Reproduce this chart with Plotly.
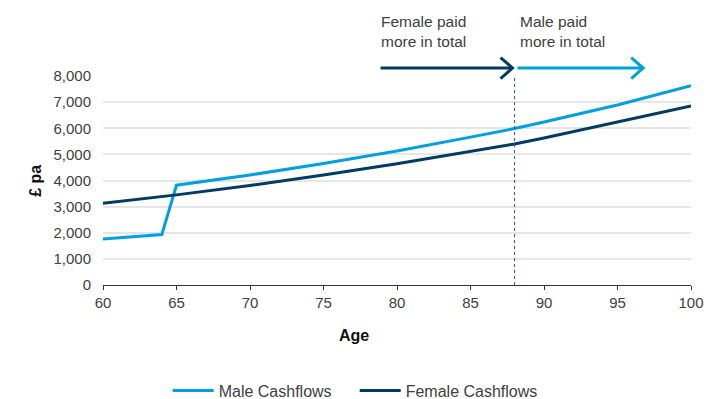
import plotly.graph_objects as go

# Data
male_age = [60, 64, 65, 70, 75, 80, 85, 88, 90, 95, 100]
male_cash = [1760, 1930, 3820, 4210, 4650, 5130, 5660, 5990, 6240, 6890, 7630]
female_age = [60, 65, 70, 75, 80, 85, 88, 90, 95, 100]
female_cash = [3130, 3450, 3810, 4210, 4640, 5100, 5400, 5630, 6230, 6850]

x_ticks = [60, 65, 70, 75, 80, 85, 90, 95, 100]
y_ticks = [0, 1000, 2000, 3000, 4000, 5000, 6000, 7000, 8000]
crossover_age = 88

MALE = "#00a0df"
FEMALE = "#003b64"
TXT = "#404040"
FONT = "Liberation Sans, Arial, sans-serif"

fig = go.Figure()
fig.add_trace(go.Scatter(x=male_age, y=male_cash, mode="lines", name="Male Cashflows",
                         line=dict(color=MALE, width=3)))
fig.add_trace(go.Scatter(x=female_age, y=female_cash, mode="lines", name="Female Cashflows",
                         line=dict(color=FEMALE, width=3)))

# dotted crossover line
fig.add_shape(type="line", xref="x", yref="paper", x0=crossover_age, x1=crossover_age,
              y0=0, y1=1, line=dict(color="#3d5166", width=1, dash="dot"), layer="above")

arrow_y = 1.038
arrows = [(78.88, 87.86, FEMALE), (88.2, 96.75, MALE)]
for x0, x1, col in arrows:
    fig.add_shape(type="line", xref="x", yref="paper", x0=x0, x1=x1 - 0.05, y0=arrow_y, y1=arrow_y,
                  line=dict(color=col, width=3))
    fig.add_shape(type="path", xref="x", yref="paper", xsizemode="pixel", ysizemode="pixel",
                  xanchor=x1, yanchor=arrow_y,
                  path="M -12,10.5 L 0,0 L -12,-10.5",
                  line=dict(color=col, width=3))

fig.add_annotation(x=78.8, y=1.31, xref="x", yref="paper", xanchor="left", yanchor="top",
                   text="Female paid<br>more in total", showarrow=False, align="left",
                   font=dict(family=FONT, size=15.5, color=TXT))
fig.add_annotation(x=88.2, y=1.31, xref="x", yref="paper", xanchor="left", yanchor="top",
                   text="Male paid<br>more in total", showarrow=False, align="left",
                   font=dict(family=FONT, size=15.5, color=TXT))

# axis titles
fig.add_annotation(x=0.4266, y=-0.293, xref="paper", yref="paper", text="<b>Age</b>",
                   showarrow=False, font=dict(family=FONT, size=16, color="#111111"))
fig.add_annotation(x=-0.133, y=0.5, xref="paper", yref="paper", text="<b>£ pa</b>",
                   textangle=-90, showarrow=False, font=dict(family=FONT, size=16, color="#111111"))

fig.update_layout(
    width=721, height=399,
    margin=dict(l=103.3, r=30, t=76, b=113.7, autoexpand=False),
    paper_bgcolor="white", plot_bgcolor="white",
    font=dict(family=FONT, size=15, color=TXT),
    showlegend=True,
    legend=dict(orientation="h", x=0.110, xanchor="left", y=-0.505, yanchor="middle",
                font=dict(family=FONT, size=16, color=TXT), itemwidth=41,
                entrywidth=131, entrywidthmode="pixels"),
    xaxis=dict(range=[60, 100], tickvals=x_ticks, ticktext=[str(v) for v in x_ticks],
               showgrid=False, zeroline=False, showline=True, linecolor="#333333", linewidth=1,
               ticks="outside", ticklen=4, tickcolor="#333333",
               tickfont=dict(family=FONT, size=15, color=TXT)),
    yaxis=dict(range=[0, 8000], tickvals=y_ticks, ticktext=[f"{v:,}" for v in y_ticks],
               showgrid=True, gridcolor="#e6e6e6", gridwidth=1.5, zeroline=False, showline=False,
               ticklabelstandoff=11,
               tickfont=dict(family=FONT, size=15, color=TXT)),
)

fig.write_html("out.html")
